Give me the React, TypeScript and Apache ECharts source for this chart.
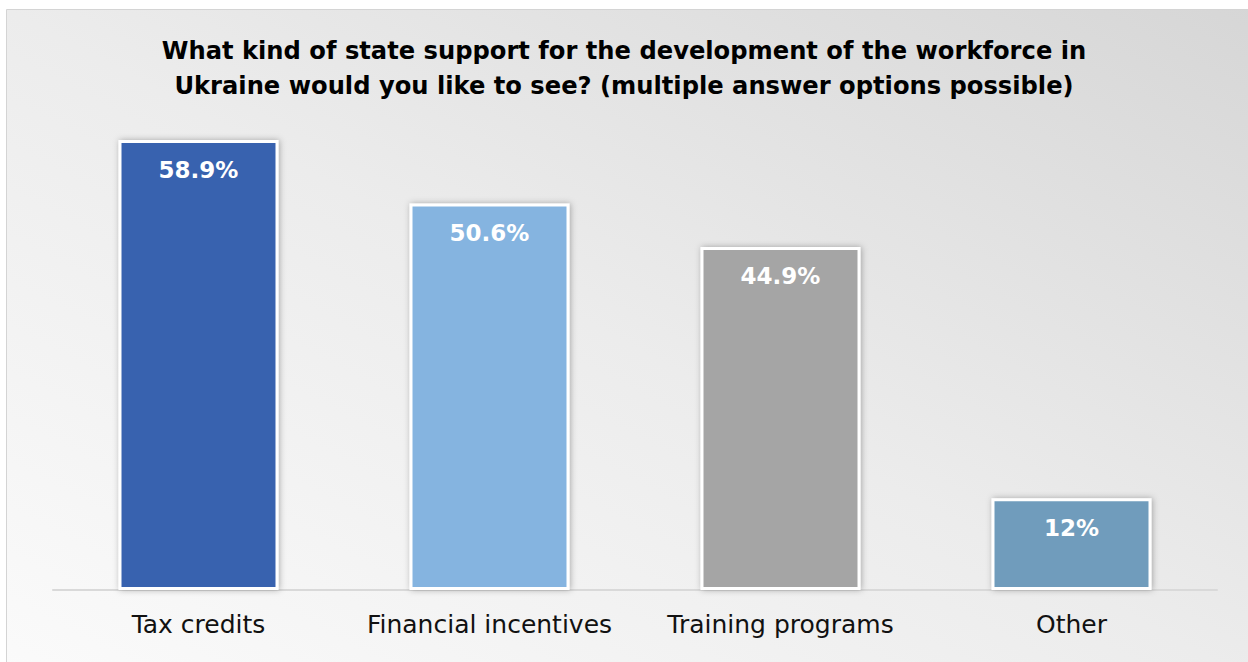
import React, { useEffect, useRef } from "react";
import * as echarts from "echarts";

const categories = ["Tax credits", "Financial incentives", "Training programs", "Other"];
const values = [58.9, 50.6, 44.9, 12];
const valueLabels = ["58.9%", "50.6%", "44.9%", "12%"];
const barColors = ["#3862AF", "#85B4E0", "#A5A5A5", "#6F9CBC"];
const titleText =
  "What kind of state support for the development of the workforce in\nUkraine would you like to see? (multiple answer options possible)";

export default function App() {
  const ref = useRef<HTMLDivElement>(null);
  useEffect(() => {
    if (!ref.current) return;
    const chart = echarts.init(ref.current, null, { renderer: "svg" });
    chart.setOption({
      animation: false,
      graphic: [
        {
          type: "rect",
          z: -10,
          silent: true,
          shape: { x: 6.5, y: 9.5, width: 1260, height: 680 },
          style: {
            fill: new echarts.graphic.LinearGradient(0, 1, 1, 0, [
              { offset: 0, color: "#fbfbfb" },
              { offset: 0.5, color: "#ececec" },
              { offset: 1, color: "#d6d6d6" },
            ]),
            stroke: "#d4d4d4",
            lineWidth: 1,
          },
        },
      ],
      title: {
        text: titleText,
        left: 619,
        top: 28,
        textAlign: "center",
        textStyle: {
          fontFamily: "DejaVu Sans",
          fontWeight: "bold",
          fontSize: 24.2,
          lineHeight: 35,
          color: "#000000",
        },
      },
      grid: { left: 53, right: 31, top: 131.6, bottom: 72 },
      xAxis: {
        type: "category",
        data: categories,
        axisLine: { show: true, lineStyle: { color: "#d9d9d9", width: 2 } },
        axisTick: { show: false },
        axisLabel: {
          interval: 0,
          hideOverlap: false,
          fontFamily: "DejaVu Sans",
          fontSize: 25,
          color: "#111111",
          margin: 22,
        },
      },
      yAxis: {
        type: "value",
        min: 0,
        max: 60,
        show: false,
        splitLine: { show: false },
      },
      series: [
        {
          type: "bar",
          barWidth: 160,
          data: values.map((v, i) => ({
            value: v,
            itemStyle: { color: barColors[i] },
            label: { formatter: valueLabels[i] },
          })),
          itemStyle: {
            borderColor: "#ffffff",
            borderWidth: 3,
            shadowColor: "rgba(0,0,0,0.3)",
            shadowBlur: 6,
            shadowOffsetX: 1,
            shadowOffsetY: 0,
          },
          label: {
            show: true,
            position: "insideTop",
            distance: 18,
            color: "#ffffff",
            fontFamily: "DejaVu Sans",
            fontWeight: "bold",
            fontSize: 23,
          },
        },
      ],
    });
    return () => chart.dispose();
  }, []);
  return (
    <div
      ref={ref}
      style={{ position: "absolute", left: 0, top: 0, width: 1248, height: 662, background: "#ffffff" }}
    />
  );
}
